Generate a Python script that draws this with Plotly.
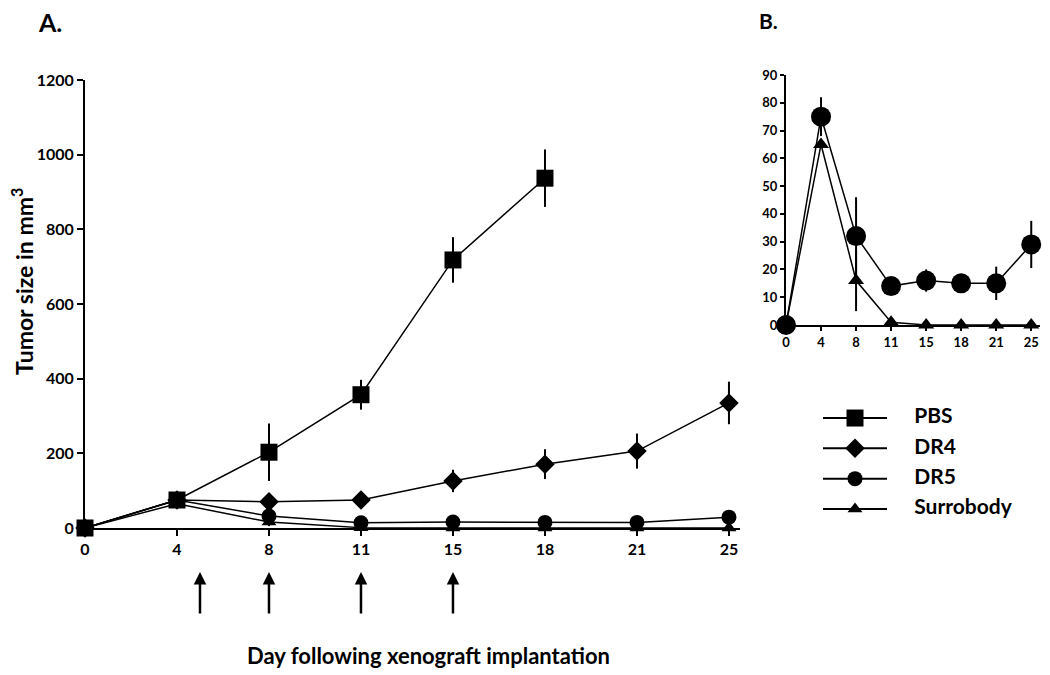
import numpy as np
import plotly.graph_objects as go

# day of measurement (categorical axis, evenly spaced)
days = [0, 4, 8, 11, 15, 18, 21, 25]
day_labels = [str(d) for d in days]

pbs = [0, 75, 203, 357, 718, 937]
pbs_err = [0, 5, 77, 40, 61, 77]
dr4 = [0, 75, 70, 75, 126, 171, 206, 335]
dr4_err = [0, 5, 20, 10, 30, 40, 47, 57]
dr5 = [0, 75, 32, 14, 16, 15, 15, 29]
dr5_err = [0, 7, 14, 3, 4, 3, 6, 8.5]
surro = [0, 65, 16, 1, 0, 0, 0, 0]
surro_err = [0, 0, 11, 1, 0, 0, 0, 0]

treatment_days = [5, 8, 11, 15]

series_names = ['PBS', 'DR4', 'DR5', 'Surrobody']
symbols = ['square', 'diamond', 'circle', 'triangle-up']
sizes_main = [17, 15, 15, 13]
sizes_inset = [17, 15, 20, 14]

FONT = 'Lato'
OFF = 8  # page body margin
W, H = 1050 - OFF, 675 - OFF


def px(x):
    return (x - OFF) / W


def py(y):
    return 1 - (y - OFF) / H


idx = np.arange(len(days))

fig = go.Figure()

data_main = [(pbs, pbs_err), (dr4, dr4_err), (dr5, dr5_err), (surro, surro_err)]

# panel A
for name, (vals, err), sym, sz in zip(series_names, data_main, symbols, sizes_main):
    fig.add_trace(go.Scatter(
        x=idx[:len(vals)], y=vals, name=name, mode='lines+markers',
        line=dict(color='black', width=1.5),
        marker=dict(symbol=sym, size=sz, color='black'),
        error_y=dict(type='data', array=err, visible=True, width=0, thickness=2, color='black'),
        cliponaxis=False, showlegend=False, xaxis='x', yaxis='y'))

# panel B (DR5 and Surrobody only)
for k in [3, 2]:
    vals, err = data_main[k]
    fig.add_trace(go.Scatter(
        x=idx[:len(vals)], y=vals, name=series_names[k], mode='lines+markers',
        line=dict(color='black', width=1.5),
        marker=dict(symbol=symbols[k], size=sizes_inset[k], color='black'),
        error_y=dict(type='data', array=err, visible=True, width=0, thickness=2, color='black'),
        cliponaxis=False, showlegend=False, xaxis='x2', yaxis='y2'))

# legend drawn on a hidden axis
for i, (name, sym) in enumerate(zip(series_names, symbols)):
    fig.add_trace(go.Scatter(x=[-1, 1], y=[i, i], mode='lines',
                             line=dict(color='black', width=2), cliponaxis=False,
                             showlegend=False, hoverinfo='skip', xaxis='x3', yaxis='y3'))
    fig.add_trace(go.Scatter(x=[0], y=[i], mode='markers', cliponaxis=False,
                             marker=dict(symbol=sym, size=sizes_main[i], color='black'),
                             showlegend=False, hoverinfo='skip', xaxis='x3', yaxis='y3'))
fig.add_trace(go.Scatter(x=[1.85] * 4, y=list(range(4)), mode='text', text=series_names,
                         textposition='middle right', cliponaxis=False,
                         textfont=dict(family=FONT, size=21, color='black', weight='bold'),
                         showlegend=False, hoverinfo='skip', xaxis='x3', yaxis='y3'))

axis_common = dict(showline=True, linecolor='black', linewidth=2, showgrid=False,
                   zeroline=False, ticks='outside', tickcolor='black', tickwidth=1.5,
                   automargin=False)

fig.update_layout(
    width=W, height=H,
    margin=dict(l=0, r=0, t=0, b=0),
    paper_bgcolor='white', plot_bgcolor='white',
    font=dict(family=FONT, color='black'),
    xaxis=dict(axis_common, domain=[px(85), px(740)], range=[0, 7.12],
               tickvals=idx, ticktext=day_labels, ticklen=6, anchor='y',
               tickfont=dict(family=FONT, size=16, weight='bold')),
    yaxis=dict(axis_common, domain=[py(528), py(80)], range=[0, 1200],
               tickvals=list(range(0, 1201, 200)), ticklen=6, anchor='x',
               tickfont=dict(family=FONT, size=16, weight='bold')),
    xaxis2=dict(axis_common, domain=[px(786), px(1040)], range=[0, 7.25],
                tickvals=idx, ticktext=day_labels, ticklen=4, anchor='y2',
                tickfont=dict(family=FONT, size=13, weight='bold')),
    yaxis2=dict(axis_common, domain=[py(325), py(75)], range=[0, 90],
                tickvals=list(range(0, 91, 10)), ticklen=4, anchor='x2',
                tickfont=dict(family=FONT, size=13, weight='bold')),
    xaxis3=dict(domain=[px(823), px(1000)], range=[-1, 4.53], visible=False,
                anchor='y3', automargin=False),
    yaxis3=dict(domain=[py(522), py(405)], range=[3.43, -0.43], visible=False,
                anchor='x3', automargin=False),
)

annots = [
    dict(text='A.', x=px(36), y=py(22), xanchor='left', yanchor='middle',
         font=dict(size=25, weight='bold')),
    dict(text='B.', x=px(757), y=py(20), xanchor='left', yanchor='middle',
         font=dict(size=21, weight='bold')),
    dict(text='Tumor size in mm<sup>3</sup>', x=px(22), y=py(282), textangle=-90,
         xanchor='center', yanchor='middle', font=dict(size=23, weight='bold')),
    dict(text='Day following xenograft implantation', x=px(428), y=py(655),
         xanchor='center', yanchor='middle', font=dict(size=22, weight='bold')),
]
for a in annots:
    a.update(xref='paper', yref='paper', showarrow=False)
    fig.add_annotation(**a)

# treatment arrows below the x axis
for d in treatment_days:
    fig.add_annotation(x=float(np.interp(d, days, idx)), y=py(572), xref='x', yref='paper',
                       text='', showarrow=True, arrowhead=2, arrowsize=1, arrowwidth=2.5,
                       arrowcolor='black', ax=0, ay=43)

fig.write_html('out.html')
